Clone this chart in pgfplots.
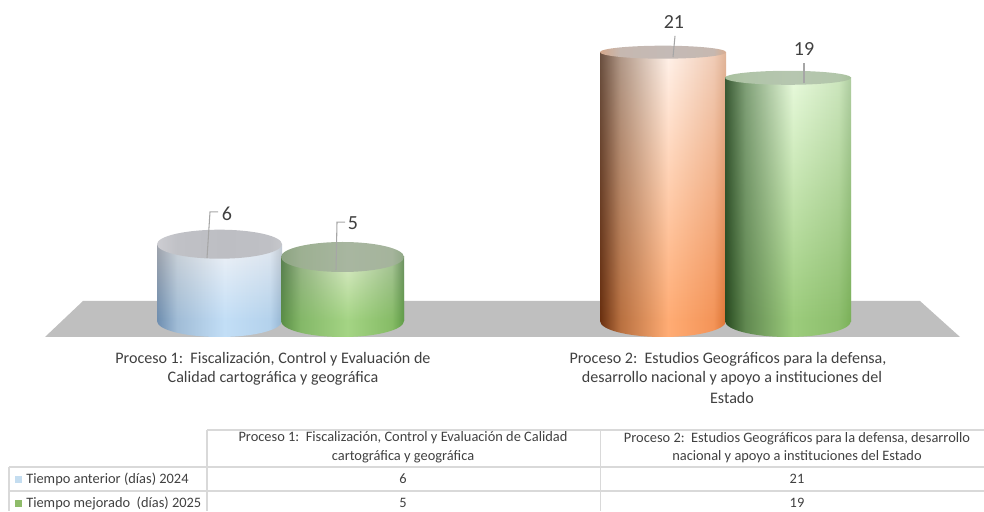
\documentclass[border=0pt]{standalone}
\usepackage{pgfplots}
\pgfplotsset{compat=1.18}
\usepackage{fontspec}
\setmainfont{Carlito}
\usetikzlibrary{fadings}
\definecolor{txt}{HTML}{404040}
\definecolor{rule}{HTML}{D9D9D9}
\definecolor{lead}{HTML}{A6A6A6}
\definecolor{swA}{HTML}{C4DDF0}
\definecolor{swB}{HTML}{8FBC6A}
\newcommand\hs[6]{%
 \definecolor{#1a}{HTML}{#2}\definecolor{#1b}{HTML}{#3}\definecolor{#1c}{HTML}{#4}\definecolor{#1d}{HTML}{#5}\definecolor{#1e}{HTML}{#6}%
 \pgfdeclarehorizontalshading{#1}{100bp}{color(0bp)=(#1a); color(25bp)=(#1a); color(33bp)=(#1b); color(52bp)=(#1c); color(70bp)=(#1d); color(75bp)=(#1e); color(100bp)=(#1e)}}
% upper and lower rows of each cylinder's surface, and its top face
\hs{Au}{A0A4AC}{CCD2D8}{F0F2F6}{E2E8F0}{C4CAD2}
\hs{Al}{6E8EB0}{A0BCD6}{C2DEF6}{B4D2EC}{96B6D2}
\hs{At}{CDCDD2}{C0C1C6}{BDBEC3}{BFC0C5}{C6C7CB}
\hs{Bu}{5A8050}{98B488}{DCECC8}{A8C498}{6C9060}
\hs{Bl}{5A8E46}{84B868}{A4D484}{86BC66}{609C48}
\hs{Bt}{8CA382}{9DB092}{A8B6A0}{A5B49C}{90A886}
\hs{Cu}{6A5040}{B09888}{FFF2EA}{F0CDB8}{E0B498}
\hs{Cl}{6A3010}{B87040}{FFAC74}{F49458}{DC7434}
\hs{Ct}{D4A88C}{C6B8B0}{C4BAB6}{C6B8B0}{D8AC90}
\hs{Du}{3A5A34}{80A078}{E8FADC}{CDE6BE}{AECCA0}
\hs{Dl}{284A20}{608850}{9CCC7C}{8CBE6C}{7AB058}
\hs{Dt}{A8C09E}{B0C4A8}{B6C6B0}{B2C6AA}{A6C09A}
\newcommand\capmark[4]{\pgfdeclareplotmark{#1}{%
  \pgfpathellipse{\pgfpointorigin}{\pgfpoint{#3*0.75pt}{0pt}}{\pgfpoint{0pt}{#4*0.75pt}}%
  \pgfshadepath{#2}{0}\pgfusepath{discard}}}
\newcommand\basemark[4]{\pgfdeclareplotmark{#1}{%
  \pgfpathmoveto{\pgfpoint{#3*0.75pt}{0pt}}%
  \pgfpatharc{0}{-180}{#3*0.75pt and #4*0.75pt}\pgfpathclose
  \pgfshadepath{#2}{0}\pgfusepath{discard}}}
\basemark{capAb}{Al}{62.5}{16}\capmark{capAt}{At}{62.5}{14.5}
\basemark{capBb}{Bl}{61.5}{16}\capmark{capBt}{Bt}{61.5}{15}
\basemark{capCb}{Cl}{63}{16}\capmark{capCt}{Ct}{63}{6.5}
\basemark{capDb}{Dl}{63}{16}\capmark{capDt}{Dt}{63}{7}
\pgfplotsset{page axis/.style={at={(0,0)},anchor=south west,scale only axis,width=738pt,height=383.25pt,
  xmin=0,xmax=984,ymin=-14.84375,ymax=25.078125,hide axis,clip=false}}
% one cylinder: name, x, value, bar width (pt), label shift x, y (pt)
\newcommand\cyl[6]{%
 \addplot[only marks,mark=cap#1b,forget plot] coordinates {(#2,0)};
 \addplot[ybar,bar shift=0pt,bar width=#4pt,draw=none,shade,shading=#1u,forget plot] coordinates {(#2,#3)};
 \addplot[ybar,bar shift=0pt,bar width=#4pt,draw=none,shade,shading=#1l,path fading=north,forget plot] coordinates {(#2,#3)};
 \addplot[only marks,mark=cap#1t,forget plot,point meta=y,nodes near coords,
   every node near coord/.style={anchor=center,xshift=#5pt,yshift=#6pt,font=\fontsize{15}{17}\selectfont,text=txt,/pgf/number format/assume math mode=true}] coordinates {(#2,#3)};
}
\newcommand\lab[3]{\node[text=txt,font=\fontsize{12.05}{12.05}\selectfont,inner sep=0pt,anchor=center] at (#1,#2) {#3};}
\newcommand\tab[3]{\node[text=txt,font=\fontsize{10.8}{10.8}\selectfont,inner sep=0pt,anchor=center] at (#1,#2) {#3};}
\begin{document}
\begin{tikzpicture}
\useasboundingbox (0,0) rectangle (738pt,383.25pt);
\begin{axis}[page axis]
 % floor
 \addplot[fill=black!25,draw=none,forget plot] coordinates {(83,1.5625) (920,1.5625) (960,-1.25) (45,-1.25)} --cycle;
 \cyl{A}{219.5}{6}{93.75}{5.6}{22.6}
 \cyl{B}{342.5}{5}{92.25}{7.9}{25.5}
 \cyl{C}{663}{21}{94.5}{8.2}{22.5}
 \cyl{D}{788}{19}{94.5}{12}{21.7}
\end{axis}
\begin{axis}[page axis]
 % leader lines, over the top faces
 \addplot[lead,line width=0.8pt,forget plot] coordinates {(207,4.92) (210,8.52) (218,8.52)};
 \addplot[lead,line width=0.8pt,forget plot] coordinates {(336,3.98) (337,7.73) (345,7.73)};
 \addplot[lead,line width=0.8pt,forget plot] coordinates {(673,20.625) (675,22.27)};
 \addplot[lead,line width=0.8pt,forget plot] coordinates {(804,18.59) (804,20.16)};
\end{axis}
\begin{scope}[x=0.75pt,y=-0.75pt,shift={(0pt,383.25pt)}]
 \lab{273}{359}{Proceso 1:\ \ Fiscalización, Control y Evaluación de}
 \lab{273}{378}{Calidad cartográfica y geográfica}
 \lab{728}{359}{Proceso 2:\ \ Estudios Geográficos para la defensa,}
 \lab{732}{378}{desarrollo nacional y apoyo a instituciones del}
 \lab{732}{398}{Estado}
 % table
 \draw[rule,line width=1pt] (207,430) -- (984,430) (9,467) -- (984,467) (9,491) -- (984,491)
   (207,430) -- (207,511) (600.5,430) -- (600.5,511) (9,467) -- (9,511);
 \tab{403}{438}{Proceso 1:\ \ Fiscalización, Control y Evaluación de Calidad}
 \tab{403}{457}{cartográfica y geográfica}
 \tab{797}{439}{Proceso 2:\ \ Estudios Geográficos para la defensa, desarrollo}
 \tab{797}{457}{nacional y apoyo a instituciones del Estado}
 \tab{403}{479}{6}\tab{797}{479}{21}
 \tab{403}{503}{5}\tab{797}{503}{19}
 \node[text=txt,font=\fontsize{10.8}{10.8}\selectfont,inner sep=0pt,anchor=west] at (26,479) {Tiempo anterior (días) 2024};
 \node[text=txt,font=\fontsize{10.8}{10.8}\selectfont,inner sep=0pt,anchor=west] at (26,503) {Tiempo mejorado\ \ (días) 2025};
 \fill[swA] (15,476) rectangle (22,483);
 \fill[swB] (15,500) rectangle (22,507);
\end{scope}
\end{tikzpicture}
\end{document}
